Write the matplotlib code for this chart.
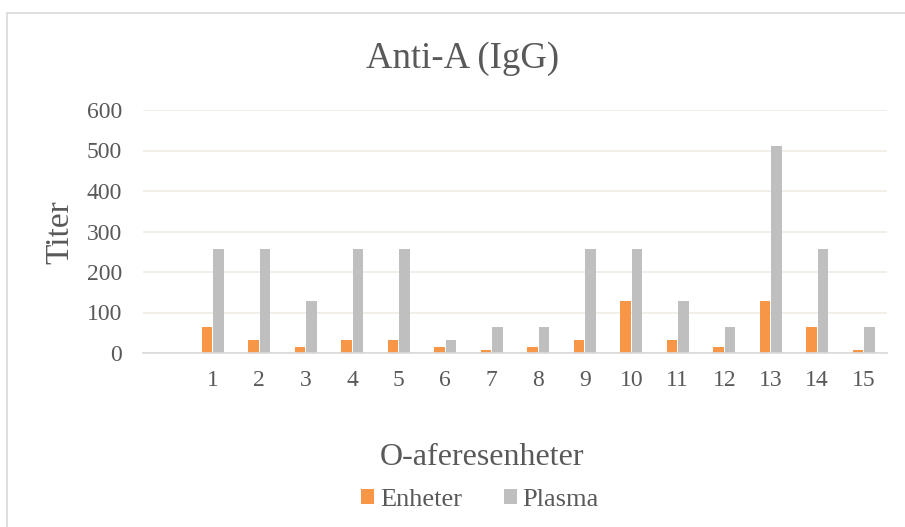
import matplotlib.pyplot as plt
import numpy as np
from matplotlib.patches import Rectangle

plt.rcParams['font.family'] = ['Liberation Serif', 'DejaVu Serif']

# first category is left blank on the axis
categories = ['', '1', '2', '3', '4', '5', '6', '7', '8', '9', '10', '11', '12', '13', '14', '15']
enheter = [0, 64, 32, 16, 32, 32, 16, 8, 16, 32, 128, 32, 16, 128, 64, 8]
plasma = [0, 256, 256, 128, 256, 256, 32, 64, 64, 256, 256, 128, 64, 512, 256, 64]
yticks = [0, 100, 200, 300, 400, 500, 600]

text_col = '#595959'
orange = '#F79646'
grey = '#BFBFBF'

W, H = 905, 527
fig = plt.figure(figsize=(W / 100, H / 100), dpi=100)
# chart frame, runs off the right and bottom edges
fig.patches.append(Rectangle((7 / W, -0.01), 1.0, 1 - 13 / H + 0.01,
                             transform=fig.transFigure, fill=False,
                             edgecolor='#D9D9D9', linewidth=1.2))

ax = fig.add_axes([143 / W, 1 - 353 / H, (887 - 143) / W, (353 - 110) / H])

x = np.arange(len(categories))
w = 0.23
ax.bar(x - 0.125, enheter, w, color=orange, label='Enheter', zorder=3)
ax.bar(x + 0.125, plasma, w, color=grey, label='Plasma', zorder=3)

ax.set_xlim(-0.5, len(categories) - 0.5)
ax.set_ylim(0, 600)
ax.set_yticks(yticks)
ax.set_xticks(x)
ax.set_xticklabels(categories)
ax.grid(axis='y', color='#EFECE4', linewidth=1.2, zorder=0)
for s in ['top', 'right', 'left']:
    ax.spines[s].set_visible(False)
ax.spines['bottom'].set_color('#D9D9D9')
ax.spines['bottom'].set_linewidth(1.2)
ax.spines['bottom'].set_zorder(4)
ax.tick_params(axis='both', length=0, labelsize=17, labelcolor=text_col)
ax.tick_params(axis='x', pad=12)
ax.tick_params(axis='y', pad=15)

fig.text(463 / W, 1 - 68 / H, 'Anti-A (IgG)', ha='center', va='baseline',
         fontsize=26.5, color=text_col)
fig.text(60 / W, 1 - 232 / H, 'Titer', rotation=90, ha='center', va='center',
         fontsize=24, color=text_col)
fig.text(482 / W, 1 - 465 / H, 'O-aferesenheter', ha='center', va='baseline',
         fontsize=23, color=text_col)

leg = fig.legend(loc='center', bbox_to_anchor=(480 / W, 1 - 500 / H), ncol=2,
                 frameon=False, fontsize=19, handlelength=0.5, handleheight=0.5,
                 handletextpad=0.2, columnspacing=1.6)
for t in leg.get_texts():
    t.set_color(text_col)

fig.savefig('out.png', dpi=100)
